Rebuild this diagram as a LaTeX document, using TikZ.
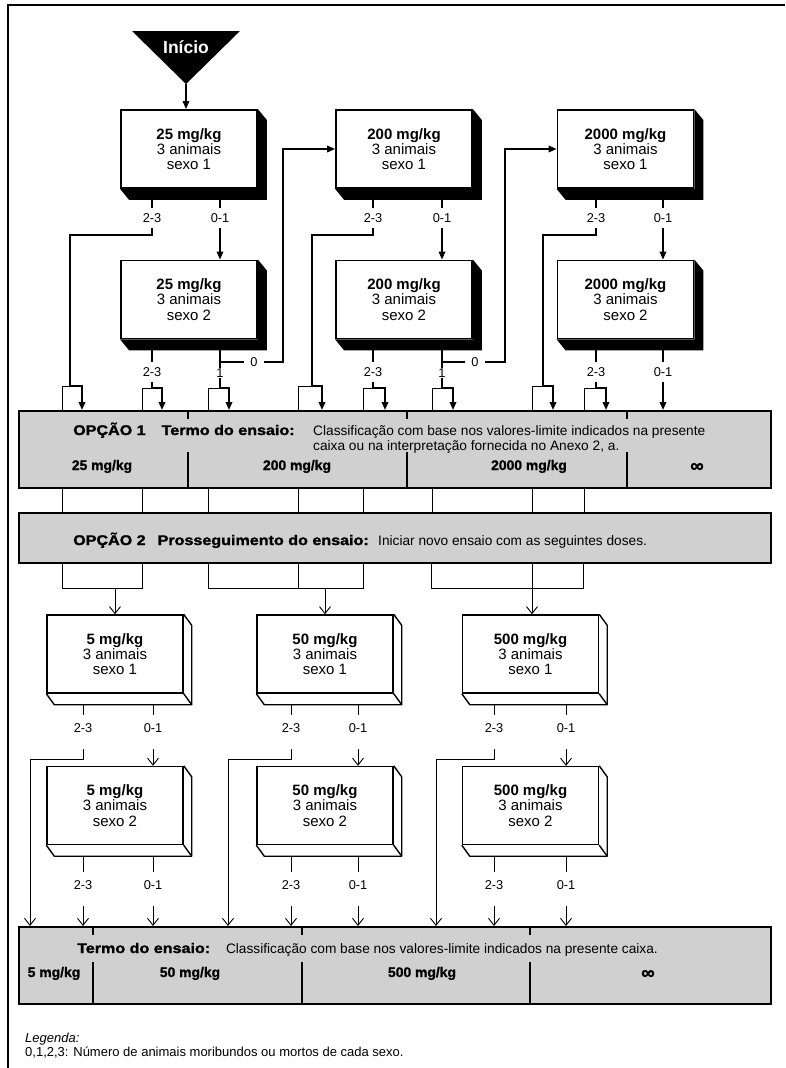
\documentclass[tikz,border=0pt]{standalone}
\usepackage{fontspec}
\setmainfont{Liberation Sans}
\newfontfamily\heavyfont{Liberation Sans Bold}[FakeBold=1.2]
\newfontfamily\headfont{Liberation Sans Bold}[FakeStretch=1.15,FakeBold=1.5]
\usetikzlibrary{arrows.meta,calc}
\definecolor{cBar}{HTML}{D0D0D0}
\tikzset{
  link/.style={line width=1.8pt},
  flow/.style={link,-{Triangle[length=8pt,width=6.5pt]}},
  thinlink/.style={line width=0.9pt},
  lowflow/.style={thinlink,-{Straight Barb[length=7pt,width=11pt]}},
  dosebox/.style={draw,fill=white,line width=1.8pt,minimum width=136pt,minimum height=78pt,
                  inner sep=0pt,align=center,font=\fontsize{15}{15.3}\selectfont},
  lowbox/.style={dosebox,line width=1.4pt},
  cnt/.style={font=\fontsize{12.8}{13}\selectfont,inner sep=0pt,anchor=base,
              text height=14pt,text depth=5pt},
  lowcnt/.style={cnt,text height=17pt,text depth=17pt},
  hcnt/.style={font=\fontsize{12.8}{13}\selectfont,inner xsep=6pt,inner ysep=0pt},
  bar/.style={draw,fill=cBar,line width=1.8pt,inner sep=0pt,anchor=north west,minimum width=752pt},
  bartxt/.style={font=\fontsize{13.7}{14}\selectfont,inner sep=0pt,anchor=base west},
  barhead/.style={font=\fontsize{14}{14}\headfont,inner sep=0pt,anchor=base west},
  bardose/.style={font=\fontsize{13.9}{14}\heavyfont,inner sep=0pt,anchor=base},
  infty/.style={font=\fontsize{19}{19}\heavyfont,inner sep=0pt,anchor=base}
}

\begin{document}
\begin{tikzpicture}[x=1pt,y=-1pt]
  \useasboundingbox (0,0) rectangle (785,1068);
  \draw[line width=2pt] (785,5) -- (8,5) -- (8,1068);

  % start
  \fill (132,31) -- (240,31) -- (186,84) -- cycle;
  \node[text=white,font=\fontsize{17.5}{17.5}\selectfont\bfseries] (inicio) at (186,47) {Início};
  \coordinate (start) at (186,84);

  % first series of doses
  \node[dosebox] (d25a) at (189,149) {\textbf{25 mg/kg}\\3 animais\\sexo 1};
  \node[dosebox] (d25b) at (189,299.5) {\textbf{25 mg/kg}\\3 animais\\sexo 2};
  \node[dosebox] (d200a) at (404,149) {\textbf{200 mg/kg}\\3 animais\\sexo 1};
  \node[dosebox] (d200b) at (404,299.5) {\textbf{200 mg/kg}\\3 animais\\sexo 2};
  \node[dosebox] (d2000a) at (625.5,149) {\textbf{2000 mg/kg}\\3 animais\\sexo 1};
  \node[dosebox] (d2000b) at (625.5,299.5) {\textbf{2000 mg/kg}\\3 animais\\sexo 2};
  \foreach \b in {d25a,d25b,d200a,d200b,d2000a,d2000b} {
    \fill (\b.south west) -- ++(9,11) -- ($(\b.south east)+(9,11)$) -- ($(\b.north east)+(9,11)$)
      -- (\b.north east) -- (\b.south east) -- cycle;
    \coordinate (\b-sh) at ($(\b.south)+(0,11)$);
  }

  % second series of doses
  \node[lowbox] (d5a) at (115,654) {\textbf{5 mg/kg}\\3 animais\\sexo 1};
  \node[lowbox] (d5b) at (115,805.5) {\textbf{5 mg/kg}\\3 animais\\sexo 2};
  \node[lowbox] (d50a) at (325,654) {\textbf{50 mg/kg}\\3 animais\\sexo 1};
  \node[lowbox] (d50b) at (325,805.5) {\textbf{50 mg/kg}\\3 animais\\sexo 2};
  \node[lowbox] (d500a) at (530.5,654) {\textbf{500 mg/kg}\\3 animais\\sexo 1};
  \node[lowbox] (d500b) at (530.5,805.5) {\textbf{500 mg/kg}\\3 animais\\sexo 2};
  \foreach \b in {d5a,d5b,d50a,d50b,d500a,d500b} {
    \draw[line width=1.4pt,line join=round] (\b.south west) -- ++(8,11) -- ($(\b.south east)+(8,11)$)
      -- ($(\b.north east)+(8,11)$) -- (\b.north east);
    \draw[line width=1.4pt] (\b.south east) -- ++(8,11);
    \coordinate (\b-sh) at ($(\b.south)+(0,11)$);
  }

  % bars
  \node[bar,minimum height=77pt] (opt1) at (18,410) {};
  \node[bar,minimum height=50pt] (opt2) at (18,512) {};
  \node[bar,minimum height=77pt] (fim) at (18,926) {};
  \foreach \x in {188,407,627} {
    \draw[link] (\x,410) -- (\x,419);
    \draw[link] (\x,452) -- (\x,487);
  }
  \foreach \x in {93,302,530} {
    \draw[link] (\x,926) -- (\x,935);
    \draw[link] (\x,962) -- (\x,1003);
  }
  \node[barhead] (o1head) at (73,435) {OPÇÃO 1\hspace{16pt}Termo do ensaio:};
  \node[bartxt] (o1l1) at (313,435) {Classificação com base nos valores-limite indicados na presente};
  \node[bartxt] (o1l2) at (313,450) {caixa ou na interpretação fornecida no Anexo 2, a.};
  \node[bardose] (o1d25) at (102,470) {25 mg/kg};
  \node[bardose] (o1d200) at (297,470) {200 mg/kg};
  \node[bardose] (o1d2000) at (529,470) {2000 mg/kg};
  \node[infty] (o1inf) at (697,472) {∞};
  \node[barhead] (o2head) at (73,545) {OPÇÃO 2\hspace{12pt}Prosseguimento do ensaio:};
  \node[bartxt] (o2txt) at (378,545) {Iniciar novo ensaio com as seguintes doses.};
  \node[barhead] (fimhead) at (77,953) {Termo do ensaio:};
  \node[bartxt,anchor=base east] (fimtxt) at (658,953) {Classificação com base nos valores-limite indicados na presente caixa.};
  \node[bardose] (fd5) at (54,977) {5 mg/kg};
  \node[bardose] (fd50) at (190,977) {50 mg/kg};
  \node[bardose] (fd500) at (422,977) {500 mg/kg};
  \node[infty] (finf) at (648,979) {∞};

  % counts, first series
  \node[cnt] (n25a23) at (152,222.5) {2-3};
  \node[cnt] (n25a01) at (220,222.5) {0-1};
  \node[cnt] (n200a23) at (373,222.5) {2-3};
  \node[cnt] (n200a01) at (442,222.5) {0-1};
  \node[cnt] (n2000a23) at (596,222.5) {2-3};
  \node[cnt] (n2000a01) at (663,222.5) {0-1};
  \node[cnt] (n25b23) at (152,376.5) {2-3};
  \node[cnt] (n200b23) at (373,376.5) {2-3};
  \node[cnt] (n2000b23) at (596,376.5) {2-3};
  \node[cnt] (n2000b01) at (663,376.5) {0-1};
  \node[hcnt] (n25b0) at (254,362) {0};
  \node[hcnt] (n25b1) at (220,373) {1};
  \node[hcnt] (n200b0) at (475,362) {0};
  \node[hcnt] (n200b1) at (442,373) {1};
  \coordinate (j25b) at (220,362);
  \coordinate (j200b) at (442,362);

  \draw[flow] (start) -- (start |- d25a.north);
  \foreach \n/\b in {n25a23/d25a,n25a01/d25a,n200a23/d200a,n200a01/d200a,n2000a23/d2000a,
                     n2000a01/d2000a,n25b23/d25b,n200b23/d200b,n2000b23/d2000b,n2000b01/d2000b}
    \draw[link] (\n |- \b-sh) -- (\n.north);

  \draw[flow] (n25a23.south) |- (70,235) -- (70,386) -- (82,386) -- (82,386 |- opt1.north);
  \draw[flow] (n25a01.south) -- (n25a01.south |- d25b.north);
  \draw[flow] (n25b23.south) -- (152,388) -- (162,388) -- (162,388 |- opt1.north);
  \draw[link] (j25b |- d25b-sh) -- (j25b) -- (n25b0.west);
  \draw[flow] (n25b0.east) -- (283,362) |- (d200a.west);
  \draw[link] (j25b) -- (n25b1.north);
  \draw[flow] (n25b1.south) -- (220,388) -- (229,388) -- (229,388 |- opt1.north);

  \draw[flow] (n200a23.south) |- (312,235) -- (312,386) -- (322,386) -- (322,386 |- opt1.north);
  \draw[flow] (n200a01.south) -- (n200a01.south |- d200b.north);
  \draw[flow] (n200b23.south) -- (373,388) -- (385,388) -- (385,388 |- opt1.north);
  \draw[link] (j200b |- d200b-sh) -- (j200b) -- (n200b0.west);
  \draw[flow] (n200b0.east) -- (505,362) |- (d2000a.west);
  \draw[link] (j200b) -- (n200b1.north);
  \draw[flow] (n200b1.south) -- (442,388) -- (453,388) -- (453,388 |- opt1.north);

  \draw[flow] (n2000a23.south) |- (543,235) -- (543,386) -- (553,386) -- (553,386 |- opt1.north);
  \draw[flow] (n2000a01.south) -- (n2000a01.south |- d2000b.north);
  \draw[flow] (n2000b23.south) -- (596,388) -- (606,388) -- (606,388 |- opt1.north);
  \draw[flow] (n2000b01.south) -- (n2000b01.south |- opt1.north);

  % option 2 lines
  \foreach \xleg/\xin/\yb in {62/70/386,142/152/388,208/220/388,298/312/386,
                              363/373/388,432/442/388,532/543/386,584/596/388} {
    \draw[thinlink] (\xin,\yb) -- (\xleg,\yb) -- (\xleg,\yb |- opt1.north);
    \draw[thinlink] (\xleg,0 |- opt1.south) -- (\xleg,0 |- opt2.north);
  }
  \coordinate (g5) at (115,588);
  \coordinate (g50) at (325,588);
  \coordinate (g500) at (530.5,588);
  \draw[thinlink] (62,0 |- opt2.south) -- (62,588) -- (142,588) -- (142,0 |- opt2.south);
  \draw[thinlink] (208,0 |- opt2.south) -- (208,588) -- (363,588) -- (363,0 |- opt2.south);
  \draw[thinlink] (298,0 |- opt2.south) -- (298,588);
  \draw[thinlink] (431,0 |- opt2.south) -- (431,588) -- (583,588) -- (583,0 |- opt2.south);
  \draw[thinlink] (532,0 |- opt2.south) -- (532,588);
  \draw[lowflow] (g5) -- (d5a.north);
  \draw[lowflow] (g50) -- (d50a.north);
  \draw[lowflow] (532,588) -- (532,0 |- d500a.north);

  % counts, second series
  \node[lowcnt] (n5a23) at (83,732) {2-3};
  \node[lowcnt] (n5a01) at (153,732) {0-1};
  \node[lowcnt] (n50a23) at (291,732) {2-3};
  \node[lowcnt] (n50a01) at (358,732) {0-1};
  \node[lowcnt] (n500a23) at (494,732) {2-3};
  \node[lowcnt] (n500a01) at (566,732) {0-1};
  \node[lowcnt] (n5b23) at (83,889) {2-3};
  \node[lowcnt] (n5b01) at (153,889) {0-1};
  \node[lowcnt] (n50b23) at (291,889) {2-3};
  \node[lowcnt] (n50b01) at (358,889) {0-1};
  \node[lowcnt] (n500b23) at (494,889) {2-3};
  \node[lowcnt] (n500b01) at (566,889) {0-1};
  \foreach \n/\b in {n5a23/d5a,n5a01/d5a,n50a23/d50a,n50a01/d50a,n500a23/d500a,n500a01/d500a,
                     n5b23/d5b,n5b01/d5b,n50b23/d50b,n50b01/d50b,n500b23/d500b,n500b01/d500b}
    \draw[thinlink] (\n |- \b-sh) -- (\n.north);
  \draw[lowflow] (n5a23.south) |- (30,759) -- (30,759 |- fim.north);
  \draw[lowflow] (n50a23.south) |- (228,759) -- (228,759 |- fim.north);
  \draw[lowflow] (n500a23.south) |- (436,759) -- (436,759 |- fim.north);
  \draw[lowflow] (n5a01.south) -- (n5a01.south |- d5b.north);
  \draw[lowflow] (n50a01.south) -- (n50a01.south |- d50b.north);
  \draw[lowflow] (n500a01.south) -- (n500a01.south |- d500b.north);
  \foreach \n in {n5b23,n5b01,n50b23,n50b01,n500b23,n500b01}
    \draw[lowflow] (\n.south) -- (\n.south |- fim.north);

  % legend
  \node[anchor=base west,inner sep=0pt,font=\fontsize{13}{13}\selectfont\itshape] (leg1) at (25,1042) {Legenda:};
  \node[anchor=base west,inner sep=0pt,font=\fontsize{13}{13}\selectfont] (leg2) at (25,1056)
    {0,1,2,3: Número de animais moribundos ou mortos de cada sexo.};
\end{tikzpicture}
\end{document}
